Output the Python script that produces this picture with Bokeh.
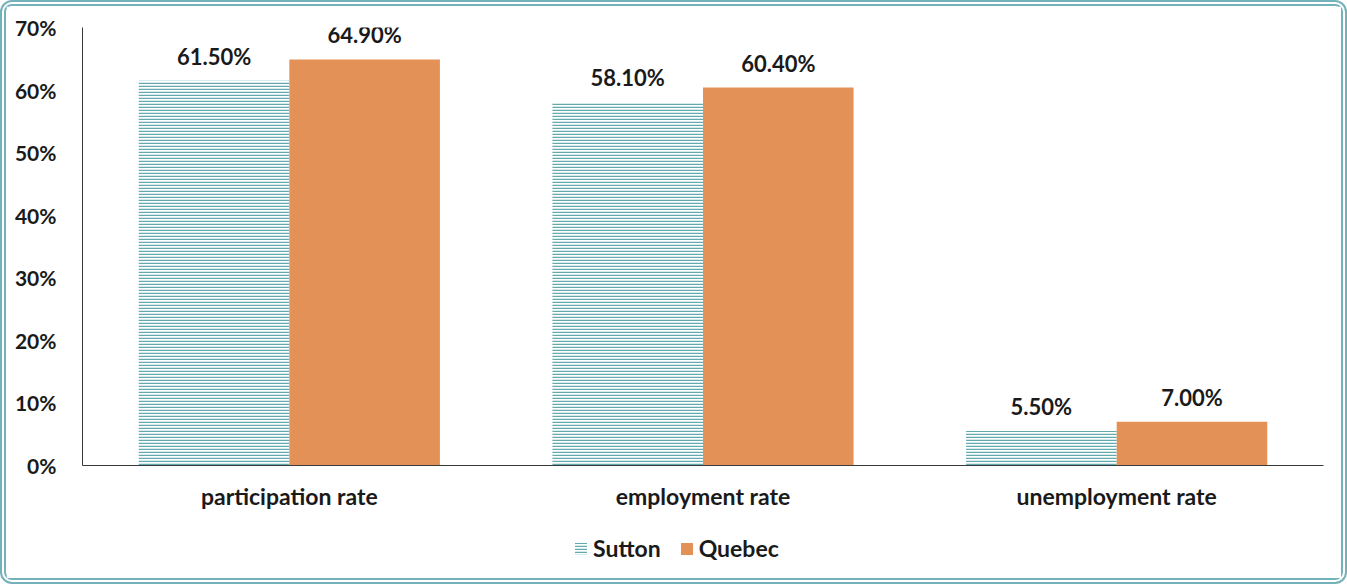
from bokeh.plotting import figure
from bokeh.layouts import column
from bokeh.models import ColumnDataSource, FactorRange, LabelSet, Legend, LegendItem, CustomJSTickFormatter, FixedTicker
from bokeh.transform import dodge
from bokeh.embed import file_html
from bokeh.resources import INLINE
from bokeh.core.properties import value

categories = ["participation rate", "employment rate", "unemployment rate"]
series = ["Sutton", "Quebec"]
sutton = [61.5, 58.1, 5.5]
quebec = [64.9, 60.4, 7.0]
y_ticks = [0, 10, 20, 30, 40, 50, 60, 70]

FONT = "Lato"
TEAL = "#63aaaf"
ORANGE = "#e39157"
FRAME = "#74b2ba"
TXT = "#1a1a1a"

src = ColumnDataSource(dict(
    cat=categories,
    sutton=sutton,
    quebec=quebec,
    sutton_lbl=[f"{v:.2f}%" for v in sutton],
    quebec_lbl=[f"{v:.2f}%" for v in quebec],
))

xr = FactorRange(*categories, range_padding=0)
bw = 0.364

p = figure(width=1335, height=514, x_range=xr, y_range=(0, 70),
           output_backend="svg", toolbar_location=None,
           min_border_left=76, min_border_top=21, min_border_right=18, min_border_bottom=55)
p.outline_line_color = None
p.grid.grid_line_color = None

def add_bars(fig, visible=True):
    a = fig.vbar(x=dodge("cat", -bw / 2, range=xr), top="sutton", width=bw, source=src,
                 fill_color="white", line_color=None, hatch_pattern="horizontal_line",
                 hatch_color=TEAL, hatch_scale=3, hatch_weight=1.5, visible=visible)
    b = fig.vbar(x=dodge("cat", bw / 2, range=xr), top="quebec", width=bw, source=src,
                 fill_color=ORANGE, line_color=None, visible=visible)
    return a, b

add_bars(p)

for col, off in (("sutton", -bw / 2), ("quebec", bw / 2)):
    lbl = LabelSet(x=dodge("cat", off, range=xr), y=col, text=col + "_lbl", source=src,
                   text_align="center", text_baseline="bottom", y_offset=11,
                   text_font=value(FONT), text_font_style="bold", text_font_size="22px",
                   text_color=TXT)
    p.add_layout(lbl)

p.yaxis.ticker = FixedTicker(ticks=y_ticks)
p.yaxis.formatter = CustomJSTickFormatter(code="return tick + '%';")
for ax in (p.xaxis, p.yaxis):
    ax.major_tick_line_color = None
    ax.minor_tick_line_color = None
    ax.axis_line_color = "#3a3a3a"
    ax.major_label_text_font = FONT
    ax.major_label_text_font_style = "bold"
    ax.major_label_text_color = TXT
p.yaxis.major_label_text_font_size = "21px"
p.yaxis.major_label_standoff = 20
p.xaxis.major_label_text_font_size = "23px"
p.xaxis.major_label_standoff = 10

# legend strip below the chart
q = figure(width=1335, height=58, x_range=xr, y_range=(0, 70),
           output_backend="svg", toolbar_location=None,
           x_axis_location=None, y_axis_location=None,
           min_border_left=0, min_border_right=0, min_border_top=0, min_border_bottom=0)
q.outline_line_color = None
q.grid.grid_line_color = None
qa, qb = add_bars(q, visible=False)
legend = Legend(items=[LegendItem(label="Sutton", renderers=[qa]),
                       LegendItem(label="Quebec", renderers=[qb])],
                orientation="horizontal", location=(491, 16),
                label_text_font=FONT, label_text_font_style="bold", label_text_font_size="23px",
                label_text_color=TXT, glyph_width=15, glyph_height=15,
                spacing=18, border_line_color=None, background_fill_alpha=0,
                inactive_fill_alpha=0, margin=0, padding=4, label_standoff=5)
q.add_layout(legend)

layout = column(p, q, spacing=0,
                styles={"border": "6px double " + FRAME, "border-radius": "12px",
                        "box-sizing": "content-box", "background": "white"})

open("out.html", "w").write(file_html(layout, INLINE))
